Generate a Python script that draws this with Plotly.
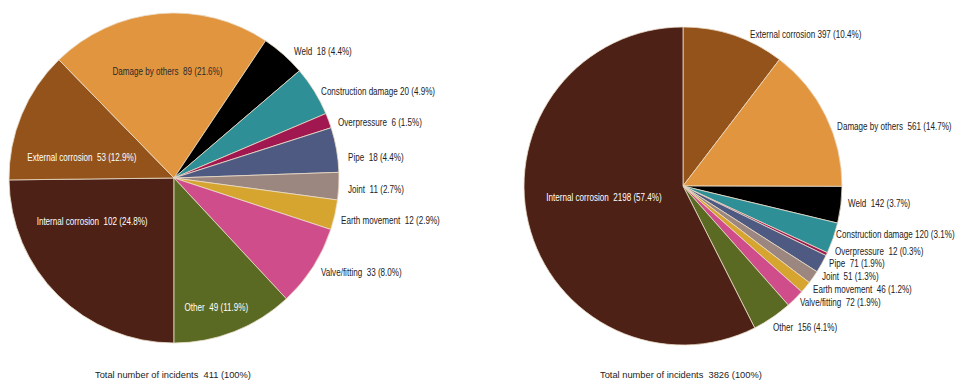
import plotly.graph_objects as go

# ---- data ----
categories = ["Internal corrosion", "External corrosion", "Damage by others", "Weld",
              "Construction damage", "Overpressure", "Pipe", "Joint", "Earth movement",
              "Valve/fitting", "Other"]
left_values = [102, 53, 89, 18, 20, 6, 18, 11, 12, 33, 49]
left_pct = ["24.8", "12.9", "21.6", "4.4", "4.9", "1.5", "4.4", "2.7", "2.9", "8.0", "11.9"]
right_values = [2198, 397, 561, 142, 120, 12, 71, 51, 46, 72, 156]
right_pct = ["57.4", "10.4", "14.7", "3.7", "3.1", "0.3", "1.9", "1.3", "1.2", "1.9", "4.1"]
left_total = 411
right_total = 3826

colors = ["#4d2115", "#93531a", "#e2953f", "#000000", "#2f8f96", "#a0184f",
          "#4f5a82", "#9c8780", "#d6a52f", "#d04d8c", "#5b6a22"]

# ---- layout helpers (pixel positions of labels, canvas 960x384) ----
W, H = 960, 384
FONT = "Liberation Sans, Arial, sans-serif"
FS = 10.5          # label font size (rendered horizontally condensed, as in the source)
NARROW = 0.77
FS_TOTAL = 9.3

# (x, y, anchor, color, separator) for each category label
left_pos = [
    (92, 221, "center", "white", "  "),
    (82, 157, "center", "white", "  "),
    (167, 71, "center", "#2a2a2a", "  "),
    (292, 51, "left", "#222", "  "),
    (319, 91, "left", "#222", " "),
    (336, 122, "left", "#222", "  "),
    (346, 157, "left", "#222", "  "),
    (346, 189, "left", "#222", "  "),
    (339, 220, "left", "#222", "  "),
    (319, 272, "left", "#222", "  "),
    (216, 307, "center", "white", "  "),
]
right_pos = [
    (604, 197, "center", "white", "  "),
    (748, 34, "left", "#222", " "),
    (835, 126, "left", "#222", "  "),
    (846, 203, "left", "#222", "  "),
    (834, 234, "left", "#222", " "),
    (833, 251, "left", "#222", "  "),
    (827, 263, "left", "#222", "  "),
    (820, 276, "left", "#222", "  "),
    (811, 289, "left", "#222", "  "),
    (798, 302, "left", "#222", "  "),
    (771, 327, "left", "#222", "  "),
]

fig = go.Figure()

# Left pie: internal corrosion starts at 6 o'clock, clockwise
fig.add_trace(go.Pie(
    labels=categories, values=left_values, sort=False, direction="clockwise",
    rotation=180, textinfo="none", hoverinfo="label+value",
    marker=dict(colors=colors, line=dict(color="#eadcc8", width=0.8)),
    domain=dict(x=[9 / W, 339 / W], y=[1 - 343 / H, 1 - 13 / H]),
    showlegend=False,
))

# Right pie: internal corrosion ends at 12 o'clock (drawn last, clockwise)
order = list(range(1, len(categories))) + [0]
fig.add_trace(go.Pie(
    labels=[categories[i] for i in order], values=[right_values[i] for i in order],
    sort=False, direction="clockwise", rotation=0, textinfo="none",
    hoverinfo="label+value",
    marker=dict(colors=[colors[i] for i in order], line=dict(color="#eadcc8", width=0.8)),
    domain=dict(x=[524 / W, 842 / W], y=[1 - 345 / H, 1 - 27 / H]),
    showlegend=False,
))

annotations = []
def add_labels(vals, pcts, positions):
    for cat, v, p, (x, y, anchor, col, sep) in zip(categories, vals, pcts, positions):
        annotations.append(dict(
            name="narrow",
            text=f"{cat}{sep}{v} ({p}%)", x=x / W, y=1 - y / H, xref="paper", yref="paper",
            xanchor=anchor, yanchor="middle", showarrow=False,
            font=dict(family=FONT, size=FS, color=col)))

add_labels(left_values, left_pct, left_pos)
add_labels(right_values, right_pct, right_pos)

annotations.append(dict(text=f"Total number of incidents  {left_total} (100%)",
                        x=173 / W, y=1 - 375 / H, xref="paper", yref="paper",
                        xanchor="center", yanchor="middle", showarrow=False,
                        font=dict(family=FONT, size=FS_TOTAL, color="#222")))
annotations.append(dict(text=f"Total number of incidents  {right_total} (100%)",
                        x=681 / W, y=1 - 375 / H, xref="paper", yref="paper",
                        xanchor="center", yanchor="middle", showarrow=False,
                        font=dict(family=FONT, size=FS_TOTAL, color="#222")))

fig.update_layout(
    width=W, height=H, margin=dict(l=0, r=0, t=0, b=0),
    paper_bgcolor="white", plot_bgcolor="white",
    annotations=annotations,
)

post = """
document.body.style.margin='0';
var gd = document.getElementById('{plot_id}');
var S = %s;
gd.querySelectorAll('g.annotation').forEach(function(g){
  var idx = +g.getAttribute('data-index');
  var ann = gd.layout.annotations[idx];
  if (!ann || ann.name !== 'narrow') return;
  var t = g.querySelector('text.annotation-text');
  if (!t) return;
  var bb = t.getBBox();
  var ox = ann.xanchor === 'left' ? bb.x : bb.x + bb.width / 2;
  t.setAttribute('transform', 'translate(' + ox + ',0) scale(' + S + ',1) translate(' + (-ox) + ',0)');
});
""" % NARROW

fig.write_html("out.html", post_script=post, config={"displayModeBar": False})
